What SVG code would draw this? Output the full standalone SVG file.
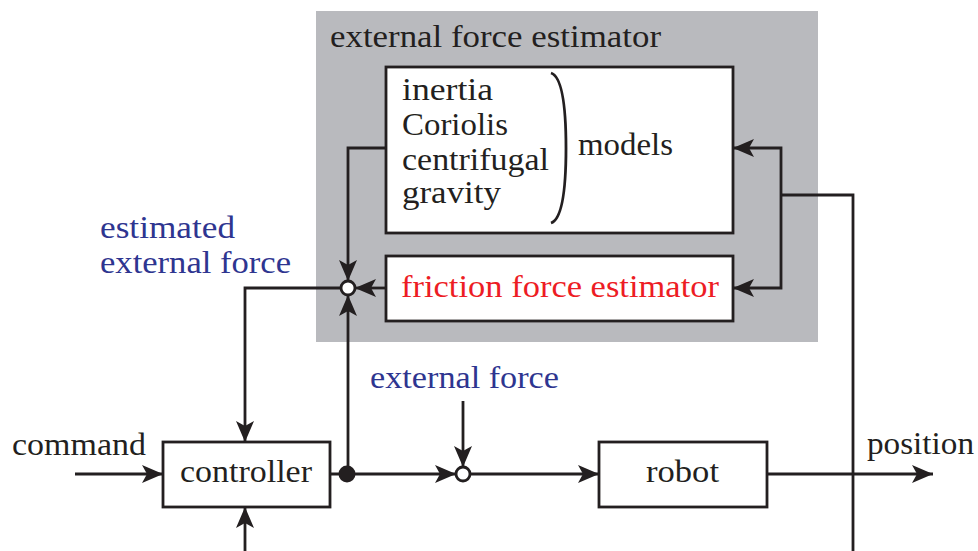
<svg xmlns="http://www.w3.org/2000/svg" width="978" height="551" viewBox="0 0 978 551" font-family="'Liberation Serif', 'DejaVu Serif', serif">
<defs>
<marker id="arr" markerUnits="userSpaceOnUse" markerWidth="24" markerHeight="20" refX="22" refY="10" orient="auto" viewBox="0 0 24 20">
<path d="M22,10 L1,1 L6,10 L1,19 Z" fill="#231f20"/>
</marker>
</defs>
<style>
text{font-family:'Liberation Serif','DejaVu Serif',serif;font-size:31px;fill:#231f20}
.blue{fill:#2e3590}
.red{fill:#ed1c24}
.box{fill:#fff;stroke:#231f20;stroke-width:2.8}
.ln{fill:none;stroke:#231f20;stroke-width:2.8}
.a{marker-end:url(#arr)}
</style>
<rect id="estimator-bg" x="316" y="11" width="502" height="331" fill="#b9babe"/>
<text x="330" y="47" textLength="331" lengthAdjust="spacingAndGlyphs">external force estimator</text>
<g id="models">
<rect class="box" x="386" y="67" width="347" height="166"/>
<text x="402" y="100" textLength="91" lengthAdjust="spacingAndGlyphs">inertia</text>
<text x="402" y="135" textLength="106" lengthAdjust="spacingAndGlyphs">Coriolis</text>
<text x="402" y="170" textLength="147" lengthAdjust="spacingAndGlyphs">centrifugal</text>
<text x="402" y="203" textLength="99" lengthAdjust="spacingAndGlyphs">gravity</text>
<path class="ln" d="M551,73 Q566,78 566,148 Q566,218 551,223" stroke-width="2.2"/>
<text x="578" y="155" textLength="95" lengthAdjust="spacingAndGlyphs">models</text>
</g>
<g id="friction">
<rect class="box" x="386" y="256" width="347" height="65"/>
<text class="red" x="401" y="297" textLength="318" lengthAdjust="spacingAndGlyphs">friction force estimator</text>
</g>
<g id="controller">
<rect class="box" x="163" y="442" width="167" height="65"/>
<text x="180" y="482" textLength="132" lengthAdjust="spacingAndGlyphs">controller</text>
</g>
<g id="robot">
<rect class="box" x="599" y="442" width="168" height="65"/>
<text x="646" y="482" textLength="73" lengthAdjust="spacingAndGlyphs">robot</text>
</g>
<g id="labels">
<text class="blue" x="100" y="238" textLength="135" lengthAdjust="spacingAndGlyphs">estimated</text>
<text class="blue" x="100" y="273" textLength="191" lengthAdjust="spacingAndGlyphs">external force</text>
<text class="blue" x="370" y="388" textLength="189" lengthAdjust="spacingAndGlyphs">external force</text>
<text x="12" y="455" textLength="134" lengthAdjust="spacingAndGlyphs">command</text>
<text x="867" y="454" textLength="107" lengthAdjust="spacingAndGlyphs">position</text>
</g>
<g id="connectors">
<path class="ln a" d="M386,148 H348 V281"/>
<path class="ln a" d="M386,288 H355"/>
<path class="ln a" d="M348,474 V295"/>
<path class="ln a" d="M341,288 H245 V442"/>
<path class="ln a" d="M75,474 H163"/>
<path class="ln a" d="M245,551 V507"/>
<path class="ln a" d="M330,474 H456"/>
<path class="ln a" d="M463,401 V467"/>
<path class="ln a" d="M470,474 H599"/>
<path class="ln a" d="M767,474 H933"/>
<path class="ln" d="M853,551 V195 H781"/>
<path class="ln a" d="M781,195 V148 H733"/>
<path class="ln a" d="M781,195 V288 H733"/>
<circle cx="348" cy="288" r="7" fill="#fff" stroke="#231f20" stroke-width="2.8"/>
<circle cx="463" cy="474" r="7" fill="#fff" stroke="#231f20" stroke-width="2.8"/>
<circle cx="347" cy="474" r="8.5" fill="#231f20"/>
</g>
</svg>
